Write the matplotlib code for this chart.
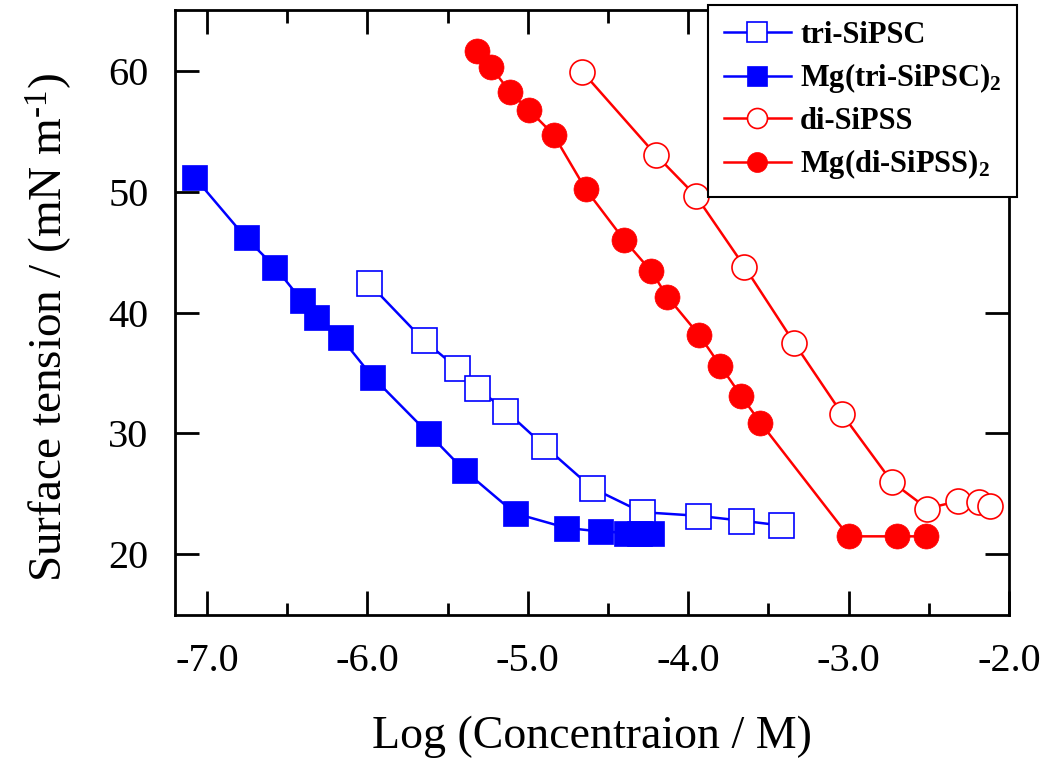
import matplotlib
matplotlib.use("Agg")
import matplotlib.pyplot as plt
from matplotlib.ticker import MultipleLocator, FormatStrFormatter

plt.rcParams['font.family'] = ['Liberation Serif', 'DejaVu Serif']
plt.rcParams['mathtext.fontset'] = 'custom'
plt.rcParams['mathtext.rm'] = 'Liberation Serif'
plt.rcParams['mathtext.bf'] = 'Liberation Serif:bold'
plt.rcParams['mathtext.it'] = 'Liberation Serif:italic'
plt.rcParams['axes.unicode_minus'] = False

# log concentration (M) vs surface tension (mN/m)
tri_x = [-5.99, -5.65, -5.44, -5.32, -5.14, -4.90, -4.60, -4.29, -3.94, -3.67, -3.42]
tri_y = [42.4, 37.7, 35.4, 33.8, 31.9, 29.0, 25.5, 23.5, 23.2, 22.8, 22.4]

mg_tri_x = [-7.08, -6.76, -6.58, -6.41, -6.32, -6.17, -5.97, -5.62, -5.40, -5.08,
            -4.76, -4.55, -4.39, -4.31, -4.23]
mg_tri_y = [51.2, 46.2, 43.8, 41.0, 39.6, 38.0, 34.7, 30.0, 27.0, 23.4,
            22.2, 21.9, 21.8, 21.8, 21.8]

di_x = [-4.66, -4.20, -3.95, -3.65, -3.34, -3.04, -2.73, -2.51, -2.32, -2.19, -2.12]
di_y = [59.9, 53.0, 49.6, 43.8, 37.5, 31.6, 26.0, 23.8, 24.4, 24.3, 24.0]

mg_di_x = [-5.32, -5.23, -5.11, -4.99, -4.84, -4.64, -4.40, -4.23, -4.13, -3.93,
           -3.80, -3.67, -3.55, -3.00, -2.70, -2.52]
mg_di_y = [61.6, 60.3, 58.2, 56.7, 54.7, 50.2, 46.0, 43.4, 41.3, 38.1,
           35.6, 33.1, 30.9, 21.5, 21.5, 21.5]

fig = plt.figure(figsize=(10.4, 7.65), dpi=100)
ax = fig.add_axes([0.1683, 0.1961, 0.8019, 0.7908])

ms = 18
lw = 1.8
ax.plot(tri_x, tri_y, '-s', color='blue', lw=lw, ms=ms, mfc='white', mec='blue',
        mew=1.2, label='tri-SiPSC')
ax.plot(mg_tri_x, mg_tri_y, '-s', color='blue', lw=lw, ms=ms, mfc='blue', mec='blue',
        mew=0.5, label='Mg(tri-SiPSC)$_\\mathbf{2}$')
ax.plot(di_x, di_y, '-o', color='red', lw=lw, ms=ms, mfc='white', mec='red',
        mew=1.2, label='di-SiPSS')
ax.plot(mg_di_x, mg_di_y, '-o', color='red', lw=lw, ms=ms, mfc='red', mec='red',
        mew=0.5, label='Mg(di-SiPSS)$_\\mathbf{2}$')

ax.set_xlim(-7.2, -2.0)
ax.set_ylim(15, 65)
ax.xaxis.set_major_locator(MultipleLocator(1.0))
ax.xaxis.set_minor_locator(MultipleLocator(0.5))
ax.xaxis.set_major_formatter(FormatStrFormatter('%.1f'))
ax.yaxis.set_major_locator(MultipleLocator(10))

ax.tick_params(which='both', direction='in', top=True, right=True, width=2)
ax.tick_params(which='major', length=17)
ax.tick_params(which='minor', length=9)
ax.tick_params(axis='x', labelsize=29, pad=20)
ax.tick_params(axis='y', labelsize=29, pad=19)
for s in ax.spines.values():
    s.set_linewidth(2)

ax.set_xlabel('Log (Concentraion / M)', fontsize=33, labelpad=26)
ax.set_ylabel('Surface tension / (mN m$^{\\text{-1}}$)', fontsize=34)
ax.yaxis.set_label_coords(-0.121, 0.476)

leg = fig.legend(loc='upper right', bbox_to_anchor=(0.978, 0.993), borderaxespad=0,
                 prop={'weight': 'bold', 'size': 22}, fancybox=False, framealpha=1,
                 edgecolor='black', handlelength=2.2, handletextpad=0.3,
                 borderpad=0.5, labelspacing=0.38, markerscale=0.8)
leg.get_frame().set_linewidth(1.5)

fig.savefig('out.png', dpi=100)
